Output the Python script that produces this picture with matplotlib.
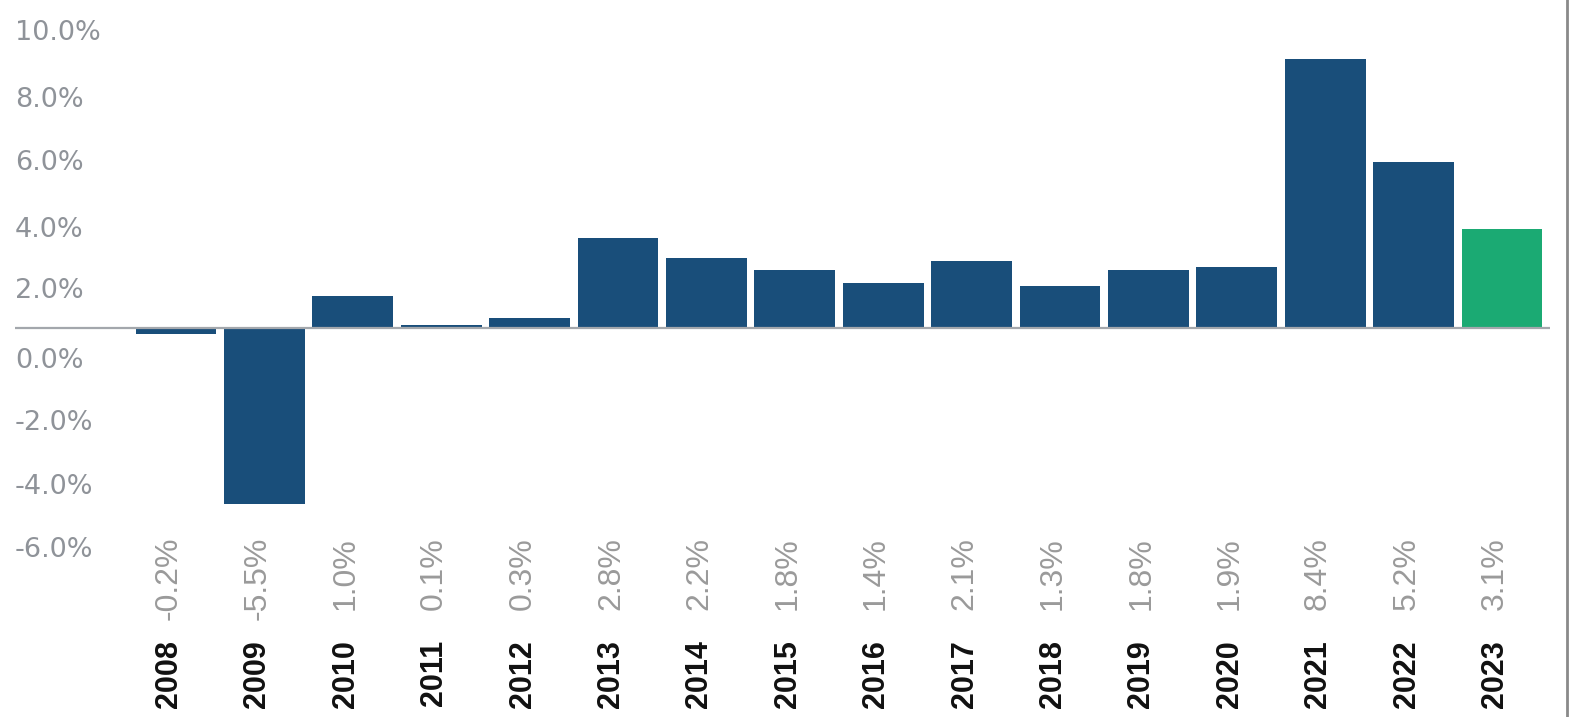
import matplotlib
matplotlib.use("Agg")
import matplotlib.pyplot as plt
from matplotlib.lines import Line2D
import matplotlib.transforms as mtransforms

years = [str(y) for y in range(2008, 2024)]
values = [-0.2, -5.5, 1.0, 0.1, 0.3, 2.8, 2.2, 1.8, 1.4, 2.1, 1.3, 1.8, 1.9, 8.4, 5.2, 3.1]
value_labels = [f"{v:.1f}%" for v in values]

# y tick labels sit where the source placed them (not on their nominal values)
tick_pos = [9.31, 7.22, 5.25, 3.16, 1.25, -0.94, -2.87, -4.87, -6.84]
tick_labels = ["10.0%", "8.0%", "6.0%", "4.0%", "2.0%", "0.0%", "-2.0%", "-4.0%", "-6.0%"]

BLUE = "#194e7a"
GREEN = "#1baa73"
GREY = "#8f9399"
LINE = "#a3a7ac"

W, H = 1585, 717
fig = plt.figure(figsize=(W / 100, H / 100), dpi=100)
ax = fig.add_axes([15 / W, 0, (1550 - 15) / W, 1])

colors = [BLUE] * (len(values) - 1) + [GREEN]
x = list(range(len(values)))
ax.bar(x, values, width=0.915, color=colors, zorder=2)
ax.axhline(0, color=LINE, linewidth=1.6, zorder=3)

ax.set_xlim(-1.821, 15.543)
ax.set_ylim(-12.16, 10.25)

ax.set_xticks([])
ax.set_yticks(tick_pos, tick_labels)
ax.tick_params(axis="y", length=0, pad=0, labelsize=19.5, labelcolor=GREY)
for lab in ax.get_yticklabels():
    lab.set_horizontalalignment("left")
    lab.set_fontfamily("DejaVu Sans")
for s in ax.spines.values():
    s.set_visible(False)

trans = mtransforms.blended_transform_factory(ax.transData, ax.transAxes)
for xi, vl, yr in zip(x, value_labels, years):
    ax.text(xi - 0.08, 1 - 537 / H, vl, transform=trans, rotation=90,
            rotation_mode="anchor", ha="right", va="center",
            fontsize=23, color="#9a9a9a", family="Liberation Sans")
    ax.text(xi - 0.08, 1 - 640 / H, yr, transform=trans, rotation=90,
            rotation_mode="anchor", ha="right", va="center",
            fontsize=22, color="#111111", fontweight="bold", family="Liberation Sans")

fig.add_artist(Line2D([1567 / W, 1567 / W], [0, 1], color="#8a8a8a", linewidth=2,
                      transform=fig.transFigure))

fig.savefig("out.png", dpi=100, facecolor="white")
